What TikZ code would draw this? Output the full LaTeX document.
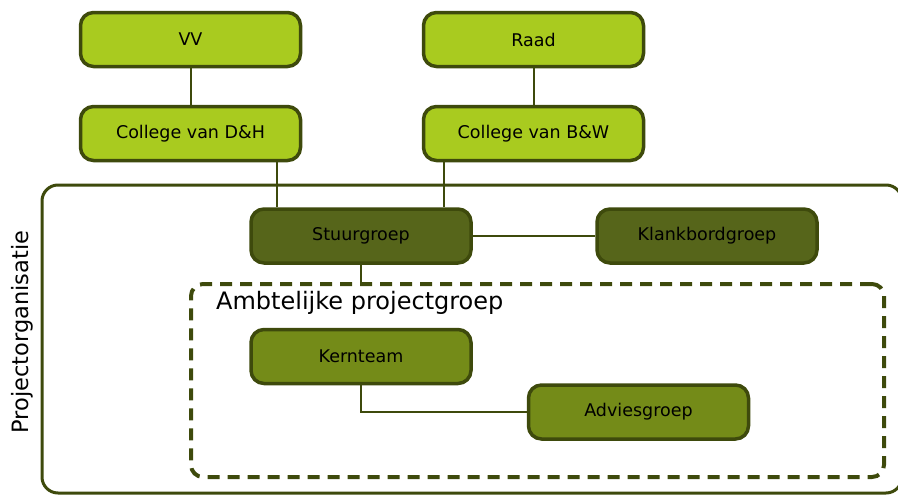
\documentclass[tikz,border=0pt]{standalone}
\usepackage{fontspec}
\setmainfont{DejaVu Sans}
\usepackage{tikz}
\usetikzlibrary{positioning}
\definecolor{rim}{HTML}{3E4A0C}
\definecolor{lime}{HTML}{A9CB1F}
\definecolor{moss}{HTML}{56651A}
\definecolor{fern}{HTML}{748B18}
\tikzset{
  unit/.style  = {rectangle, rounded corners=13pt, draw=rim, fill=#1, line width=3.5pt,
                  minimum width=220pt, minimum height=54pt, inner sep=0pt,
                  font=\fontsize{17.5}{20}\selectfont},
  frame/.style = {rectangle, draw=rim, inner sep=0pt},
  link/.style  = {draw=rim, line width=2pt},
}

\begin{document}
\begin{tikzpicture}[x=1pt, y=-1pt]
  \useasboundingbox (0,0) rectangle (898,496);
  % project frames
  \node[frame, line width=3pt, rounded corners=16pt, minimum width=860pt, minimum height=308pt] (org) at (472,339) {};
  \node[frame, line width=4pt, dash pattern=on 12pt off 8pt, rounded corners=12pt,
        minimum width=693pt, minimum height=193pt] (ambt) at (537.5,380.5) {};
  \node[rotate=90, font=\fontsize{22.5}{26}\selectfont] (orglabel) at (22,332) {Projectorganisatie};
  \node[anchor=west, inner sep=0pt, font=\fontsize{24}{27}\selectfont] (ambtlabel) at (216,303) {Ambtelijke projectgroep};
  % boxes
  \node[unit=lime] (vv) at (190.5,39.5) {VV};
  \node[unit=lime, right=119.5pt of vv] (raad) {Raad};
  \node[unit=lime, below=36.5pt of vv] (dh) {College van D\&H};
  \node[unit=lime, below=36.5pt of raad] (bw) {College van B\&W};
  \node[unit=moss] (stuur) at (361,236) {Stuurgroep};
  \node[unit=moss, right=122.5pt of stuur] (klank) {Klankbordgroep};
  \node[unit=fern] (kern) at (361,356.5) {Kernteam};
  \node[unit=fern] (advies) at (638.5,412) {Adviesgroep};
  % lines
  \draw[link] (vv) -- (dh);
  \draw[link] (raad) -- (bw);
  \draw[link] ([xshift=28pt]stuur.north west) -- ([xshift=28pt]stuur.north west |- dh.south);
  \draw[link] ([xshift=-29pt]stuur.north east) -- ([xshift=-29pt]stuur.north east |- bw.south);
  \draw[link] (stuur) -- (klank);
  \draw[link] (stuur.south) -- (stuur.south |- ambt.north);
  \draw[link] (kern.south) |- (advies.west);
\end{tikzpicture}
\end{document}
